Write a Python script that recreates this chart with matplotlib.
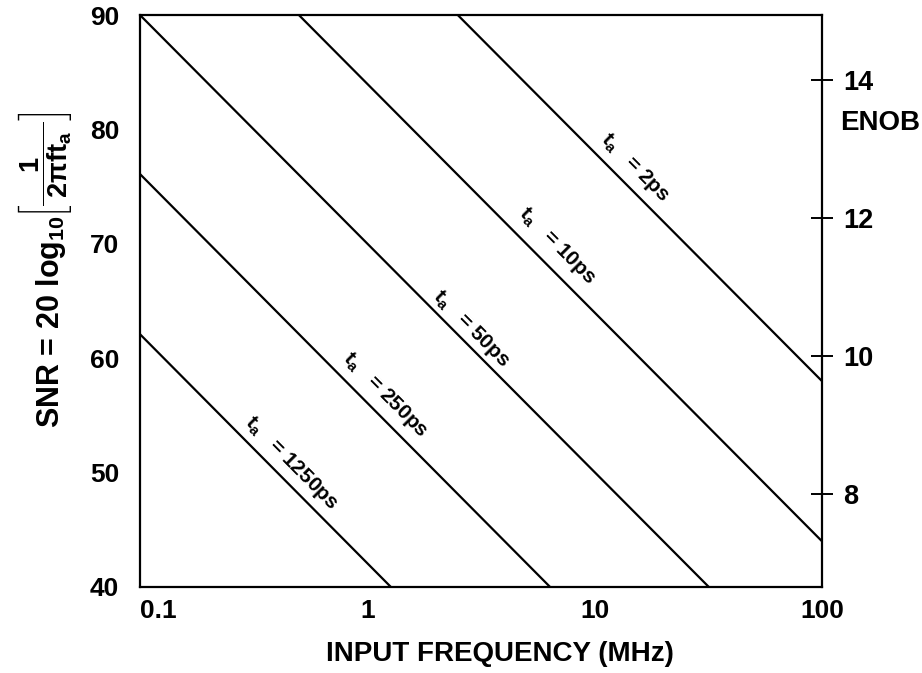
import numpy as np
import matplotlib
matplotlib.use("Agg")
import matplotlib.pyplot as plt
from matplotlib.ticker import FixedLocator, NullFormatter, FixedFormatter

plt.rcParams['font.family'] = ['Liberation Sans', 'DejaVu Sans']
plt.rcParams['font.weight'] = 'bold'
plt.rcParams['mathtext.fontset'] = 'custom'
plt.rcParams['mathtext.rm'] = 'Liberation Sans:bold'
plt.rcParams['mathtext.it'] = 'Liberation Sans:bold'
plt.rcParams['mathtext.default'] = 'regular'

# aperture jitter lines: end points (MHz, dB) of each straight line
ta_labels = ["2ps", "10ps", "50ps", "250ps", "1250ps"]
freq_start = [2.5, 0.5, 0.1, 0.1, 0.1]
snr_start = [90.0, 90.0, 90.0, 76.1, 62.1]
freq_end = [100, 100, 31.8, 6.37, 1.27]
snr_end = [58.0, 44.0, 40.0, 40.0, 40.0]
# where along each line its label sits (MHz) and how far off the line (pt)
label_freq = [13.2, 5.9, 2.6, 1.05, 0.41]
label_off = [13, 15, 10, 13, 12]

x_ticks = [0.1, 1, 10, 100]
x_ticklabels = ["0.1", "1", "10", "100"]
snr_ticks = [40, 50, 60, 70, 80, 90]
enob_ticks = [8, 10, 12, 14]
db_per_bit = 6.02

fig = plt.figure(figsize=(9.22, 6.73), dpi=100)
ax = fig.add_axes([0.1518, 0.1278, 0.7397, 0.8499])

for i in range(len(ta_labels)):
    ax.plot([freq_start[i], freq_end[i]], [snr_start[i], snr_end[i]],
            color='black', lw=1.6, solid_capstyle='butt')

ax.set_xscale('log')
ax.set_xlim(0.1, 100)
ax.set_ylim(40, 90)

for s in ax.spines.values():
    s.set_linewidth(1.6)

# labelled major ticks without marks, interior marks as minor ticks
ax.xaxis.set_major_locator(FixedLocator(x_ticks))
ax.xaxis.set_major_formatter(FixedFormatter(x_ticklabels))
ax.xaxis.set_minor_locator(FixedLocator(x_ticks[1:-1]))
ax.xaxis.set_minor_formatter(NullFormatter())
ax.set_yticks(snr_ticks)
ax.set_yticks(snr_ticks[1:-1], minor=True)
ax.yaxis.set_minor_formatter(NullFormatter())
ax.tick_params(which='major', length=0, labelsize=19)
ax.tick_params(axis='y', which='major', pad=15)
ax.tick_params(axis='x', which='major', pad=9)
ax.tick_params(which='minor', direction='inout', length=16, width=1.4)
ax.get_xticklabels()[0].set_ha('left')

ax.set_xlabel("INPUT FREQUENCY (MHz)", fontsize=20, fontweight='bold')
ax.xaxis.set_label_coords(0.528, -0.095)

# y label in two parts: text and the bracketed fraction
ax.text(-0.1305, 0.278, r"SNR = 20 log$_{10}$",
        transform=ax.transAxes, rotation=90, ha='center', va='bottom',
        fontsize=22, fontweight='bold')
ax.text(-0.139, 0.832, r"$\left[\dfrac{1}{\ 2\pi ft_a\ }\right]$",
        transform=ax.transAxes, rotation=90, ha='center', va='top',
        fontsize=19.5)

# right-hand ENOB scale
ax2 = ax.twinx()
ax2.set_ylim(40 / db_per_bit, 90 / db_per_bit)
ax2.set_yticks(enob_ticks)
ax2.tick_params(direction='inout', length=16, width=1.4, labelsize=19.5, pad=7)
for s in ax2.spines.values():
    s.set_visible(False)
ax.text(1.026, 0.811, "ENOB", transform=ax.transAxes, ha='left', va='center',
        fontsize=20, fontweight='bold')

# labels along the lines, rotated to the line slope
fig.canvas.draw()
for i in range(len(ta_labels)):
    p0 = ax.transData.transform((freq_start[i], snr_start[i]))
    p1 = ax.transData.transform((freq_end[i], snr_end[i]))
    ang = np.degrees(np.arctan2(p1[1] - p0[1], p1[0] - p0[0]))
    f = label_freq[i]
    t = np.log10(f / freq_start[i]) / np.log10(freq_end[i] / freq_start[i])
    y = snr_start[i] + t * (snr_end[i] - snr_start[i])
    nx, ny = -np.sin(np.radians(ang)), np.cos(np.radians(ang))
    d = label_off[i]
    ax.annotate(r"t$_a$   = " + ta_labels[i], (f, y), xytext=(nx * d, ny * d),
                textcoords='offset points', rotation=ang, rotation_mode='anchor',
                ha='center', va='center', fontsize=15, fontweight='bold')

fig.savefig("out.png", dpi=100)
